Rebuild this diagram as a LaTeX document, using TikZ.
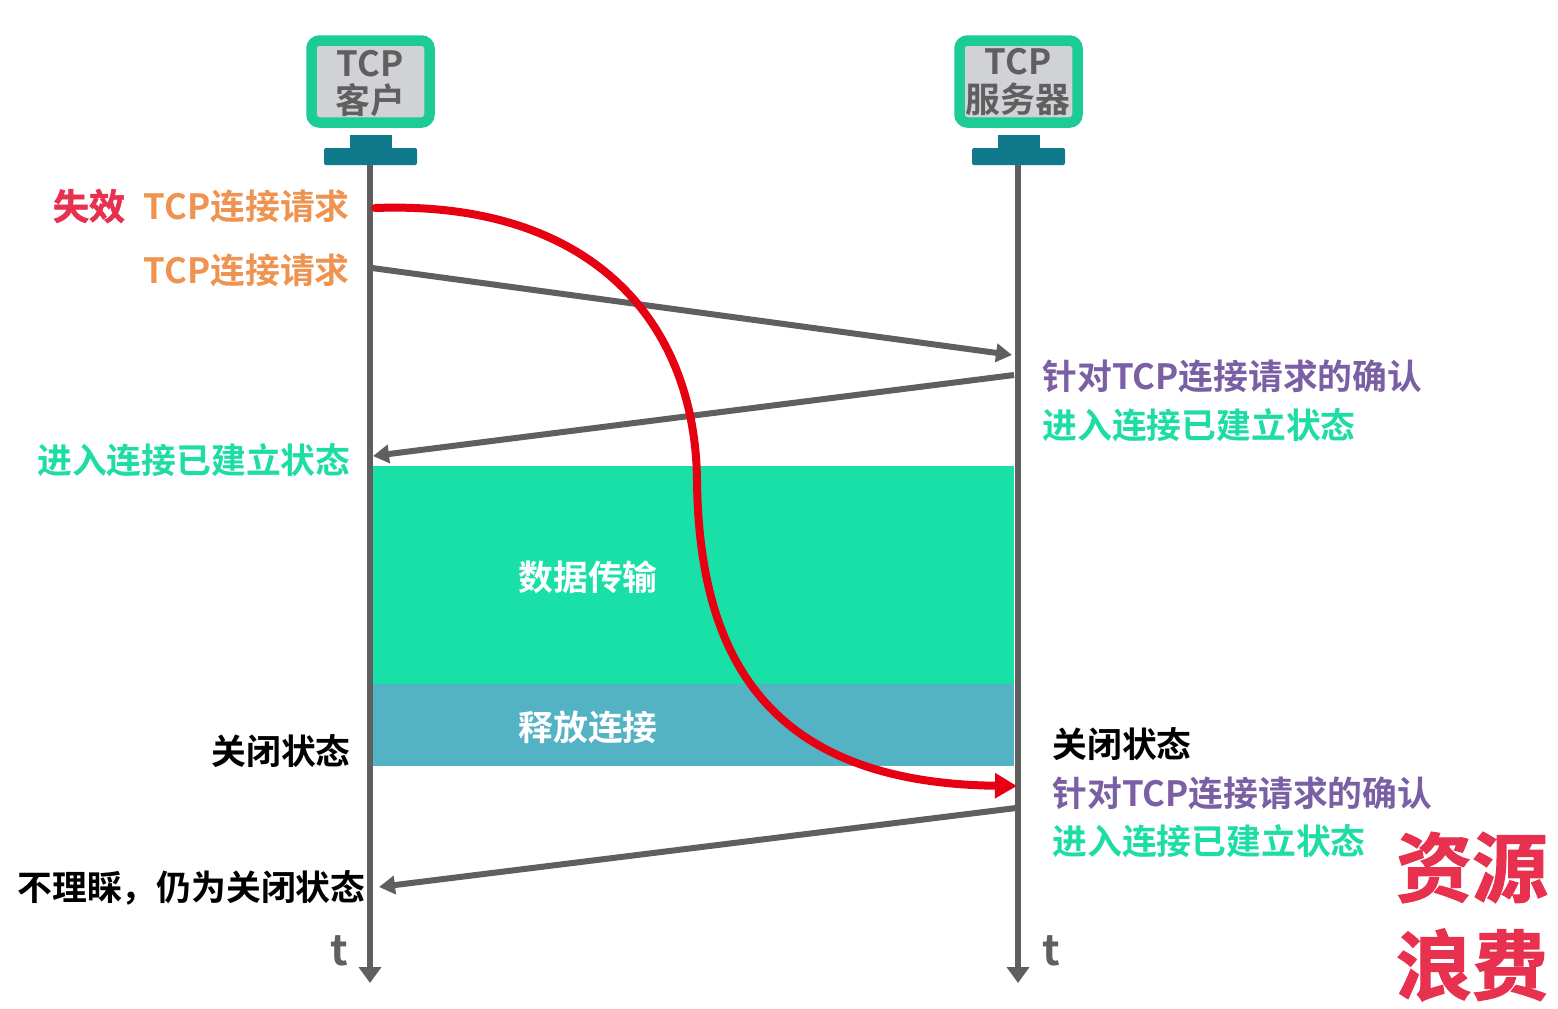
\documentclass[tikz,border=0pt]{standalone}
\usepackage{fontspec}
\setmainfont{Noto Sans CJK SC}[BoldFont={* Bold}]
\newfontfamily\stampface{Noto Sans CJK SC Bold}[FakeBold=1.5]
\usetikzlibrary{arrows.meta}
\definecolor{mongreen}{HTML}{1CCB95}
\definecolor{mongray}{HTML}{D0D2D6}
\definecolor{monbase}{HTML}{107A8C}
\definecolor{lifegray}{HTML}{5F5F5F}
\definecolor{datagreen}{HTML}{18E0A6}
\definecolor{relblue}{HTML}{53B2C4}
\definecolor{curvered}{HTML}{E60012}
\definecolor{orangetxt}{HTML}{EF9350}
\definecolor{purpletxt}{HTML}{7B5FA5}
\definecolor{greentxt}{HTML}{1DDDA5}
\definecolor{stampred}{HTML}{E8304F}
\tikzset{
  lbl/.style={inner sep=0pt,font=\fontsize{17.4pt}{20pt}\bfseries,text height=13.2pt,text depth=0pt},
  stamp/.style={inner sep=0pt,font=\fontsize{18pt}{20pt}\stampface,text=stampred,text height=13.7pt,text depth=0pt},
  bigstamp/.style={inner sep=0pt,font=\fontsize{38pt}{42pt}\stampface,text=stampred,text height=29pt,text depth=0pt},
  screen/.style={draw=mongreen,line width=5.25pt,fill=mongray,rounded corners=4pt,minimum width=59pt,minimum height=41pt,inner sep=0pt},
  montxt/.style={lbl,text=lifegray},
  basepart/.style={fill=monbase,draw=none},
  life/.style={draw=lifegray,line width=3.4pt,-{Triangle[length=8pt,width=11pt]}},
  msg/.style={draw=lifegray,line width=3pt,-{Triangle[length=8pt,width=9pt,sep=0pt]}},
  block/.style={draw=none,minimum width=320.5pt,inner sep=0pt},
}
\begin{document}
\begin{tikzpicture}[x=0.5pt,y=-0.5pt]
\useasboundingbox[fill=white] (0,0) rectangle (1558,1008);
% blocks
\node[block,fill=datagreen,minimum height=109pt] (data) at (693.5,575) {};
\node[block,fill=relblue,minimum height=41pt] (rel) at (693.5,725) {};
\node[lbl,text=white] (datat) at (588,577) {数据传输};
\node[lbl,text=white] (relt) at (588,727) {释放连接};
% monitors
\node[screen] (cs) at (370.5,81.5) {};
\node[screen] (ss) at (1018.5,81.5) {};
\fill[basepart] (350,135) rectangle (392,150);
\fill[basepart,rounded corners=1pt] (324,148) rectangle (417,165);
\fill[basepart] (998,135) rectangle (1040,150);
\fill[basepart,rounded corners=1pt] (972,148) rectangle (1065,165);
\node[montxt] (c1) at (370,63) {TCP};
\node[montxt] (c2) at (370,100) {客户};
\node[montxt] (s1) at (1018,61) {TCP};
\node[montxt] (s2) at (1018,99) {服务器};
% lifelines
\coordinate (ct) at (370,165); \coordinate (cb) at (370,983);
\coordinate (st) at (1018,165); \coordinate (sb) at (1018,983);
\draw[life] (ct) -- (cb);
\draw[life] (st) -- (sb);
% messages
\coordinate (m1a) at (372,268); \coordinate (m1b) at (1012,355);
\coordinate (m2a) at (1014,375); \coordinate (m2b) at (373,456);
\coordinate (m3a) at (1016,808); \coordinate (m3b) at (379,887);
\draw[msg] (m1a) -- (m1b);
\draw[msg] (m2a) -- (m2b);
\draw[msg] (m3a) -- (m3b);
% red curve
\coordinate (ra) at (375,208); \coordinate (rm) at (697,480); \coordinate (rb) at (1017,786);
\draw[curvered,line width=4pt,line cap=round,-{Triangle[length=11pt,width=12pt]}]
  (ra) .. controls (590,200) and (695,320) .. (rm)
       .. controls (699,660) and (770,783) .. (rb);
% left labels
\node[stamp,anchor=center] (fail) at (89,206) {失效};
\node[lbl,anchor=east,text=orangetxt] (req1) at (350,206) {TCP连接请求};
\node[lbl,anchor=east,text=orangetxt] (req2) at (350,270) {TCP连接请求};
\node[lbl,anchor=east,text=greentxt] (estl) at (351,460) {进入连接已建立状态};
\node[lbl,anchor=east,text=black] (closel) at (351,751) {关闭状态};
\node[lbl,anchor=east,text=black] (ign) at (366,887) {不理睬，仍为关闭状态};
% right labels
\node[lbl,anchor=west,text=purpletxt] (ack1) at (1042,376) {针对TCP连接请求的确认};
\node[lbl,anchor=west,text=greentxt] (est1) at (1042,425) {进入连接已建立状态};
\node[lbl,anchor=west,text=black] (closer) at (1052,744) {关闭状态};
\node[lbl,anchor=west,text=purpletxt] (ack2) at (1052,793) {针对TCP连接请求的确认};
\node[lbl,anchor=west,text=greentxt] (est2) at (1052,841) {进入连接已建立状态};
% t
\node[inner sep=0pt,font=\fontsize{21pt}{24pt}\bfseries,text=lifegray] (t1) at (339,951) {t};
\node[inner sep=0pt,font=\fontsize{21pt}{24pt}\bfseries,text=lifegray] (t2) at (1051,951) {t};
% stamps
\node[bigstamp] (st1) at (1472,867) {资源};
\node[bigstamp] (st2) at (1472,965) {浪费};
\end{tikzpicture}
\end{document}
